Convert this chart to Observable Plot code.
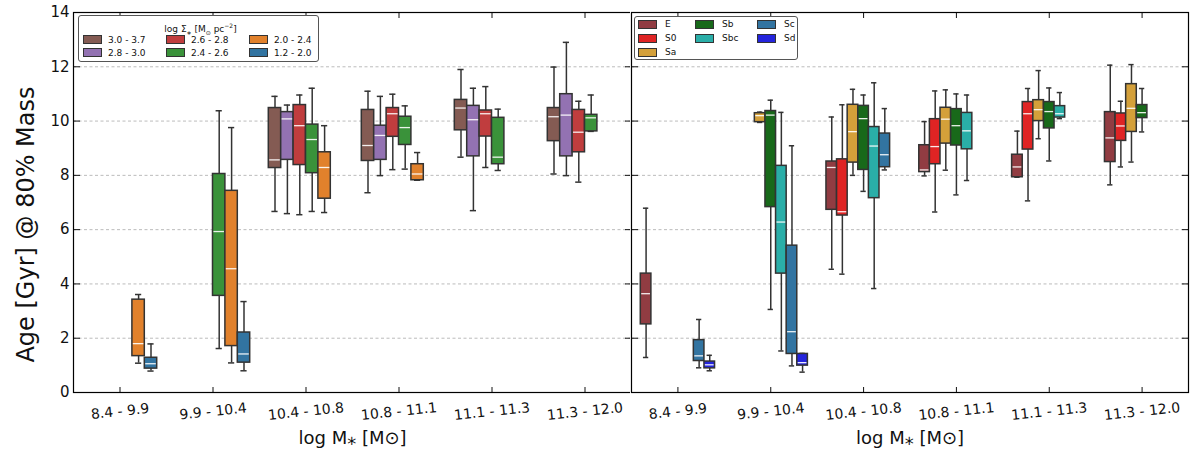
<!DOCTYPE html>
<html>
<head>
<meta charset="utf-8">
<script src="https://cdn.jsdelivr.net/npm/d3@7"></script>
<script src="https://cdn.jsdelivr.net/npm/@observablehq/plot@0.6"></script>
<style>
  body { margin: 0; background: #fff; font-family: "DejaVu Sans", sans-serif; }
  #chart { position: relative; width: 1200px; height: 451px; overflow: hidden; }
  #chart svg { position: absolute; top: 0; }
  .legend { position: absolute; box-sizing: border-box; background: #fff; border: 1px solid #555;
            border-radius: 3px; font-size: 9px; color: #111; }
  .legend .title { text-align: center; height: 13px; line-height: 13px; margin-top: 3px; margin-bottom: 1px; }
  .legend .cols { display: flex; }
  .legend .col { display: flex; flex-direction: column; }
  .legend .item { display: flex; align-items: center; white-space: nowrap; }
  .legend .sw { display: inline-block; width: 17px; height: 7px; border: 1px solid #333; }
</style>
</head>
<body>
<div id="chart"></div>
<script>
const massBins = ["8.4 - 9.9", "9.9 - 10.4", "10.4 - 10.8", "10.8 - 11.1", "11.1 - 11.3", "11.3 - 12.0"];
const yTicks = [0, 2, 4, 6, 8, 10, 12, 14];

// left panel: stellar mass surface density bins
const sigmaBins = ["3.0 - 3.7", "2.8 - 3.0", "2.6 - 2.8", "2.4 - 2.6", "2.0 - 2.4", "1.2 - 2.0"];
const sigmaColors = ["#845b53", "#9372b2", "#c03d3e", "#3a923a", "#e1812c", "#3274a1"];
// [lower whisker, q1, median, q3, upper whisker] per mass bin
const sig30_37 = [null, null, [6.67, 8.27, 8.57, 10.48, 10.91], [7.36, 8.53, 9.10, 10.41, 11.10], [8.67, 9.66, 10.48, 10.78, 11.90], [8.05, 9.26, 10.16, 10.48, 11.99]];
const sig28_30 = [null, null, [6.59, 8.57, 10.08, 10.33, 10.59], [7.99, 8.57, 9.47, 9.83, 10.91], [6.70, 8.70, 10.05, 10.56, 11.21], [7.99, 8.70, 10.22, 10.99, 12.90]];
const sig26_28 = [null, null, [6.55, 8.38, 9.83, 10.59, 10.96], [8.21, 9.42, 10.27, 10.48, 10.99], [8.29, 9.43, 10.27, 10.39, 11.27], [7.75, 8.85, 9.59, 10.41, 10.73]];
const sig24_26 = [null, [1.62, 3.56, 5.93, 8.05, 10.38], [6.67, 8.08, 9.32, 9.87, 11.21], [8.23, 9.12, 9.76, 10.16, 10.56], [8.18, 8.41, 8.67, 10.12, 10.44], [9.62, 9.62, 10.12, 10.23, 10.96]];
const sig20_24 = [[1.08, 1.34, 1.80, 3.42, 3.61], [1.09, 1.71, 4.56, 7.43, 9.76], [6.63, 7.14, 8.29, 8.85, 9.83], [7.82, 7.82, 8.05, 8.41, 8.84], null, null];
const sig12_20 = [[0.79, 0.88, 1.06, 1.28, 1.79], [0.80, 1.10, 1.42, 2.21, 3.35], null, null, null, null];

// right panel: morphological types
const morphTypes = ["E", "S0", "Sa", "Sb", "Sbc", "Sc", "Sd"];
const morphColors = ["#913c42", "#df2424", "#d4a03a", "#18691a", "#2aaea8", "#3274a1", "#2424dc"];
const typeE = [[1.29, 2.51, 3.64, 4.38, 6.79], null, [4.54, 6.73, 8.29, 8.51, 10.15], [7.98, 8.12, 8.20, 9.11, 9.98], [7.93, 7.93, 8.31, 8.76, 9.63], [7.65, 8.49, 9.38, 10.33, 12.06]];
const typeS0 = [null, null, [4.36, 6.52, 6.66, 8.59, 10.60], [6.65, 8.41, 9.06, 10.07, 11.11], [7.06, 8.95, 10.27, 10.70, 11.20], [8.31, 9.27, 9.82, 10.28, 10.73]];
const typeSa = [null, [9.95, 9.96, 10.20, 10.29, 10.33], [8.00, 8.47, 9.61, 10.60, 11.17], [8.19, 9.17, 10.07, 10.49, 11.15], [9.35, 10.00, 10.42, 10.77, 11.86], [8.49, 9.60, 10.47, 11.36, 12.08]];
const typeSb = [null, [3.06, 6.83, 10.22, 10.37, 10.77], [7.41, 8.20, 10.09, 10.56, 10.96], [7.28, 9.10, 9.83, 10.44, 11.00], [8.53, 9.73, 10.35, 10.70, 11.22], [9.60, 10.11, 10.31, 10.59, 11.20]];
const typeSbc = [null, [1.53, 4.38, 6.28, 8.35, 10.32], [3.83, 7.16, 9.08, 9.78, 11.41], [7.81, 8.96, 9.64, 10.30, 10.96], [10.09, 10.13, 10.27, 10.55, 11.05], null];
const typeSc = [[0.91, 1.16, 1.35, 1.93, 2.69], [0.98, 1.42, 2.24, 5.41, 9.09], [8.20, 8.30, 8.76, 9.54, 10.46], null, null, null];
const typeSd = [[0.80, 0.89, 1.02, 1.14, 1.37], [0.75, 0.99, 1.10, 1.42, 1.44], null, null, null, null];

// turn the per-series arrays into rows, with a dodge slot per hue
function toRows(names, series) {
  const w = 0.8 / names.length;
  return names.flatMap((name, k) => series[k].map((s, i) => s && {
    hue: name,
    x1: i - 0.4 + k * w,
    x2: i - 0.4 + (k + 1) * w,
    xc: i - 0.4 + (k + 0.5) * w,
    w,
    lo: s[0], q1: s[1], med: s[2], q3: s[3], hi: s[4]
  }).filter(Boolean));
}

const edge = "#333";
function panel({rows, names, colors, width, marginLeft, marginRight, yLabels}) {
  const capL = d => d.xc - d.w / 4, capR = d => d.xc + d.w / 4;
  return Plot.plot({
    width, height: 451,
    marginTop: 12, marginBottom: 59, marginLeft, marginRight,
    style: {fontFamily: "DejaVu Sans", background: "white", color: "#111"},
    x: {domain: [-0.5, 5.5]},
    y: {domain: [0, 14]},
    color: {domain: names, range: colors},
    marks: [
      Plot.ruleY(yTicks.slice(1, -1), {stroke: "#aaa", strokeWidth: 0.8, strokeDasharray: "3,2.5"}),
      Plot.ruleX(rows, {x: "xc", y1: "lo", y2: "q1", stroke: edge, strokeWidth: 1.5}),
      Plot.ruleX(rows, {x: "xc", y1: "q3", y2: "hi", stroke: edge, strokeWidth: 1.5}),
      Plot.ruleY(rows, {y: "lo", x1: capL, x2: capR, stroke: edge, strokeWidth: 1.5}),
      Plot.ruleY(rows, {y: "hi", x1: capL, x2: capR, stroke: edge, strokeWidth: 1.5}),
      Plot.rect(rows, {x1: "x1", x2: "x2", y1: "q1", y2: "q3", fill: "hue", stroke: edge, strokeWidth: 1.5}),
      Plot.ruleY(rows, {y: "med", x1: d => d.x1 + 0.01, x2: d => d.x2 - 0.01, stroke: "#fff", strokeWidth: 1.3, strokeOpacity: 0.9}),
      Plot.axisY({anchor: "left", ticks: yTicks, tickSize: -7, tickPadding: 11, fontSize: 15, label: null,
                  tickFormat: yLabels ? d => d : () => ""}),
      Plot.axisY({anchor: "right", ticks: yTicks, tickSize: -7, label: null, tickFormat: () => ""}),
      Plot.axisX({anchor: "bottom", ticks: d3.range(massBins.length), tickSize: -5, label: null, tickFormat: () => ""}),
      Plot.axisX({anchor: "top", ticks: d3.range(massBins.length), tickSize: -5, label: null, tickFormat: () => ""}),
      // slanted category labels under the frame
      Plot.text(d3.range(massBins.length), {x: d => d, text: i => massBins[i], frameAnchor: "bottom",
                textAnchor: "middle", lineAnchor: "middle", dy: 19, rotate: -6, fontSize: 14}),
      Plot.frame({stroke: "#000", strokeWidth: 1.2}),
      Plot.text(["log M\u204e [M\u2299]"], {frameAnchor: "bottom", textAnchor: "middle", lineAnchor: "middle",
                dy: 46, fontSize: 18}),
      yLabels ? Plot.text(["Age [Gyr] @ 80% Mass"], {frameAnchor: "left", textAnchor: "middle", lineAnchor: "middle",
                rotate: -90, dx: -47, dy: 22, fontSize: 24}) : null
    ]
  });
}

function legend({left, top, width, height, title, names, colors, ncol, colWidths, rowH, padL, gap}) {
  const div = document.createElement("div");
  div.className = "legend";
  Object.assign(div.style, {left: left + "px", top: top + "px", width: width + "px", height: height + "px", paddingLeft: padL + "px"});
  if (title) {
    const t = document.createElement("div");
    t.className = "title";
    t.innerHTML = title;
    div.appendChild(t);
  }
  const cols = document.createElement("div");
  cols.className = "cols";
  // matplotlib fills columns first, extra entries go to the first columns
  const base = Math.floor(names.length / ncol), extra = names.length % ncol;
  let idx = 0;
  for (let c = 0; c < ncol; c++) {
    const col = document.createElement("div");
    col.className = "col";
    col.style.width = colWidths[c] + "px";
    const n = base + (c < extra ? 1 : 0);
    for (let r = 0; r < n; r++, idx++) {
      const item = document.createElement("div");
      item.className = "item";
      item.style.height = rowH + "px";
      const sw = document.createElement("span");
      sw.className = "sw";
      sw.style.background = colors[idx];
      sw.style.marginRight = gap + "px";
      item.appendChild(sw);
      item.appendChild(document.createTextNode(names[idx]));
      col.appendChild(item);
    }
    cols.appendChild(col);
  }
  div.appendChild(cols);
  return div;
}

const chart = document.getElementById("chart");

const left = panel({rows: toRows(sigmaBins, [sig30_37, sig28_30, sig26_28, sig24_26, sig20_24, sig12_20]),
                    names: sigmaBins, colors: sigmaColors, width: 632, marginLeft: 73, marginRight: 1, yLabels: true});
left.style.left = "0px";
chart.appendChild(left);

const right = panel({rows: toRows(morphTypes, [typeE, typeS0, typeSa, typeSb, typeSbc, typeSc, typeSd]),
                     names: morphTypes, colors: morphColors, width: 570, marginLeft: 1, marginRight: 12, yLabels: false});
right.style.left = "630px";
chart.appendChild(right);

chart.appendChild(legend({left: 78, top: 15, width: 241, height: 47,
  title: "log \u03a3<sub style='font-size:6px'>\u2217</sub> [M<sub style='font-size:6px'>\u2299</sub> pc<sup style='font-size:6px'>\u22122</sup>]",
  names: sigmaBins, colors: sigmaColors, ncol: 3, colWidths: [84, 84, 70], rowH: 13, padL: 4, gap: 6}));

chart.appendChild(legend({left: 634, top: 16, width: 164, height: 44, title: null,
  names: morphTypes, colors: morphColors, ncol: 3, colWidths: [57, 62, 40], rowH: 14, padL: 3, gap: 8}));
</script>
</body>
</html>
